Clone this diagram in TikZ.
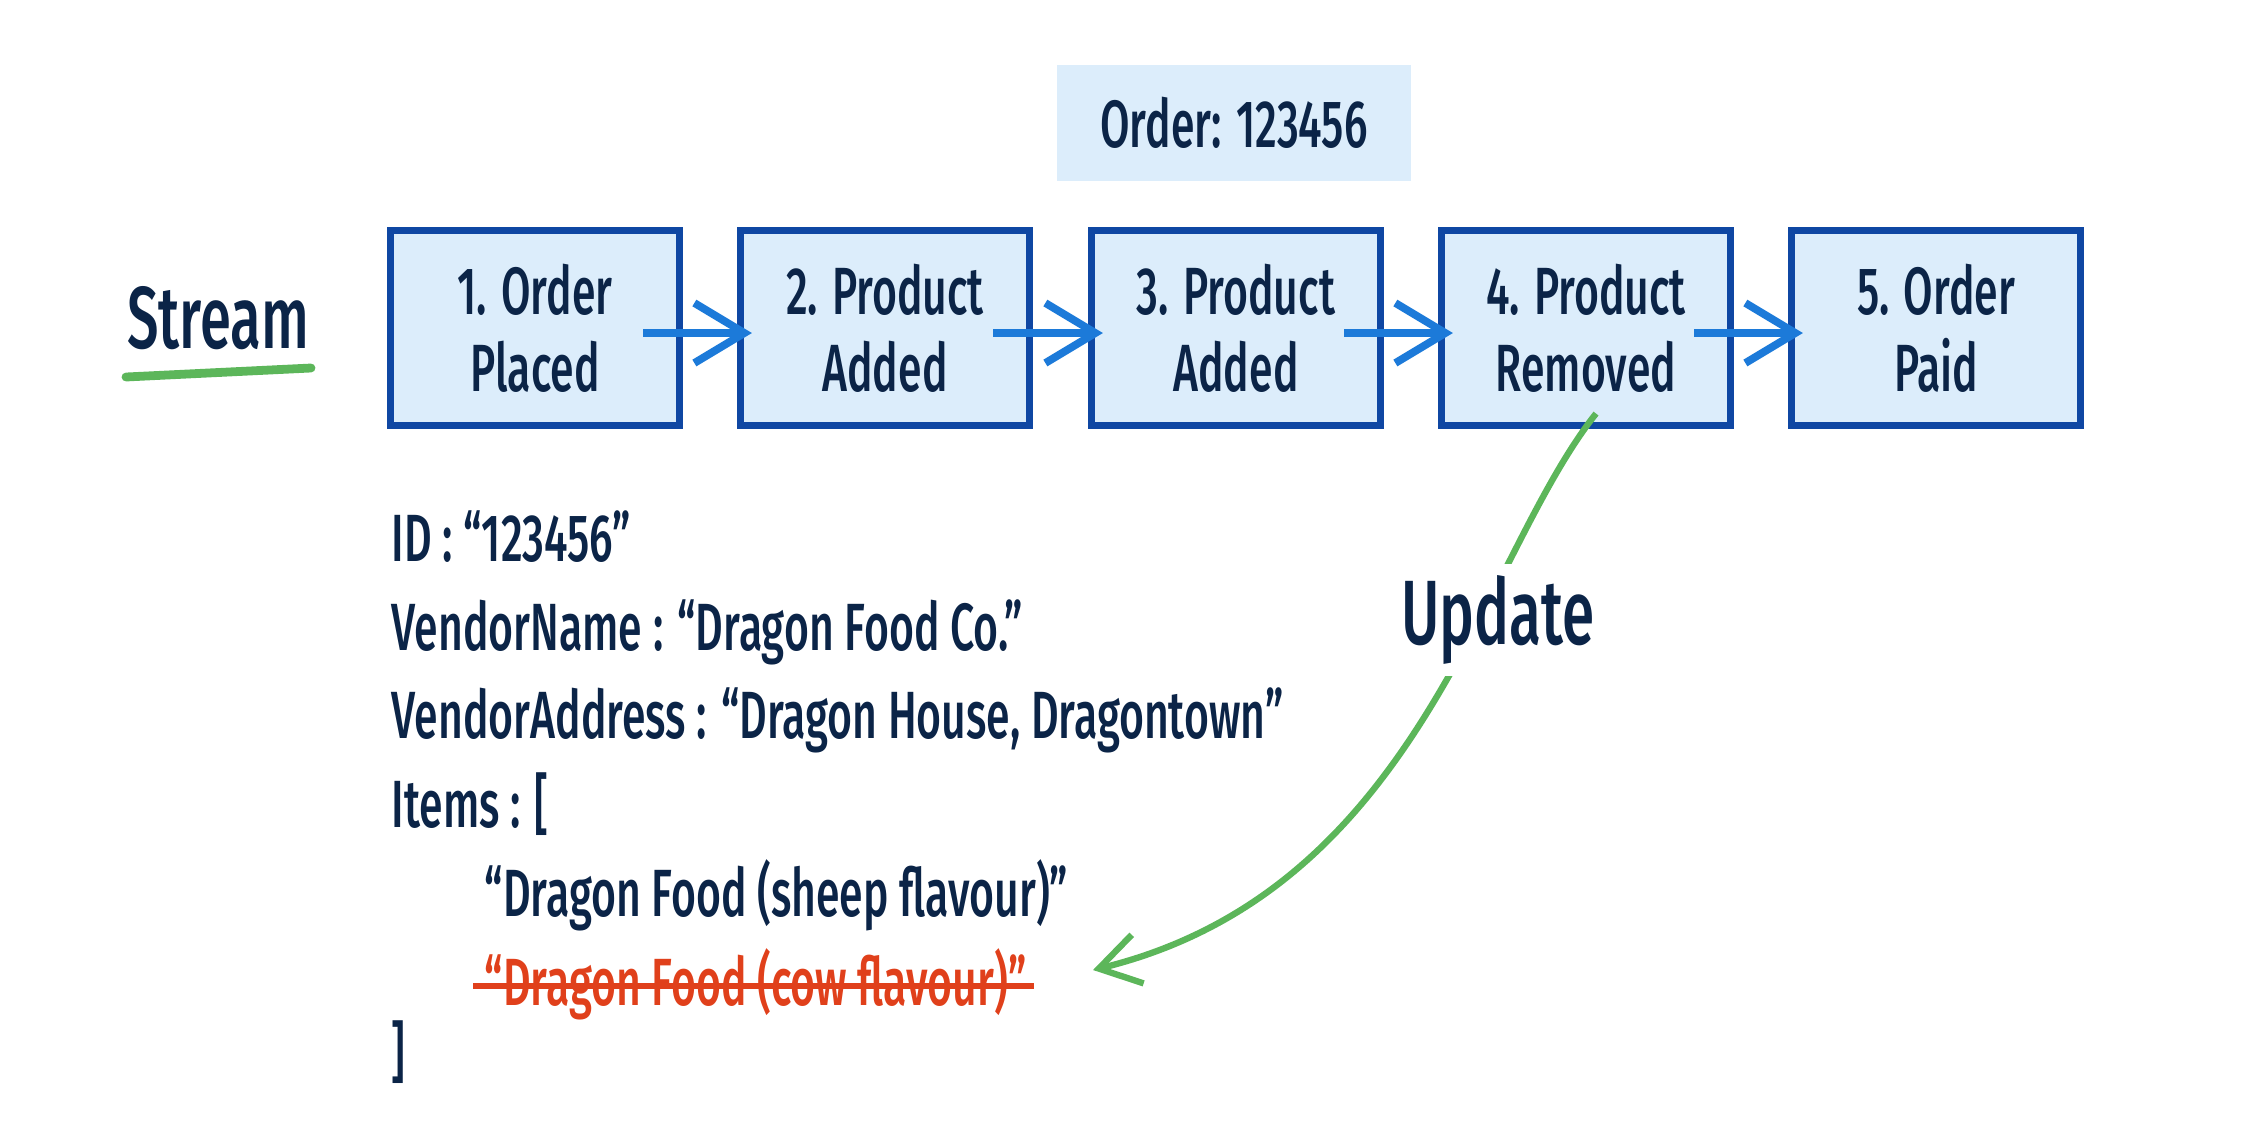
\documentclass[tikz,border=0pt]{standalone}
\usepackage{fontspec}
\setmainfont[FakeStretch=0.64, UprightFont=* Medium]{Fira Sans}
\usetikzlibrary{arrows.meta,positioning}
\definecolor{ink}{HTML}{0B2447}
\definecolor{paleblue}{HTML}{DCEDFB}
\definecolor{edgeblue}{HTML}{0F47A3}
\definecolor{flowblue}{HTML}{1C7AD9}
\definecolor{markgreen}{HTML}{5CB65A}
\definecolor{strikered}{HTML}{E0401B}

\begin{document}
\begin{tikzpicture}[x=0.01cm,y=-0.01cm,
    event/.style={draw=edgeblue, fill=paleblue, line width=2pt,
      minimum width=2.89cm, minimum height=1.94cm, align=center,
      text=ink, font=\fontsize{19}{22}\selectfont},
    flow/.style={draw=flowblue, line width=2.2pt,
      -{Straight Barb[length=0.5cm,width=0.6cm,line width=2.2pt]}},
    field/.style={anchor=base west, inner sep=0pt, text=ink,
      font=\fontsize{19}{22}\selectfont}]
    \useasboundingbox (0,0) rectangle (2254,1142);
    \def\ey{328}
    % the order
    \node[fill=paleblue, minimum width=3.54cm, minimum height=1.16cm,
      text=ink, font=\fontsize{19}{22}\selectfont] (order) at (1234,123) {Order: 123456};
    % the stream
    \node[text=ink, font=\fontsize{25}{28}\selectfont] (stream) at (218,318) {Stream};
    \coordinate (ul1) at (126,377);
    \coordinate (ul2) at (311,368);
    \draw[markgreen, line width=2.5pt, line cap=round] (ul1) -- (ul2);
    \node[event] (e1) at (535,\ey) {1. Order\\Placed};
    \node[event] (e2) at (885,\ey) {2. Product\\Added};
    \node[event] (e3) at (1236,\ey) {3. Product\\Added};
    \node[event] (e4) at (1586,\ey) {4. Product\\Removed};
    \node[event] (e5) at (1936,\ey) {5. Order\\Paid};
    \draw[flow] ([xshift=-0.4cm,yshift=-0.05cm]e1.east) -- ([xshift=0.15cm,yshift=-0.05cm]e2.west);
    \draw[flow] ([xshift=-0.4cm,yshift=-0.05cm]e2.east) -- ([xshift=0.15cm,yshift=-0.05cm]e3.west);
    \draw[flow] ([xshift=-0.4cm,yshift=-0.05cm]e3.east) -- ([xshift=0.15cm,yshift=-0.05cm]e4.west);
    \draw[flow] ([xshift=-0.4cm,yshift=-0.05cm]e4.east) -- ([xshift=0.15cm,yshift=-0.05cm]e5.west);
    % the state
    \node[field] (id) at (391,561) {ID : “123456”};
    \node[field] (name) at (391,650) {VendorName : “Dragon Food Co.”};
    \node[field] (addr) at (391,738) {VendorAddress : “Dragon House, Dragontown”};
    \node[field] (items) at (391,827) {Items : [};
    \node[field] (sheep) at (484,916) {“Dragon Food (sheep flavour)”};
    \node[field, text=strikered] (cow) at (484,1005) {“Dragon Food (cow flavour)”};
    \draw[strikered, line width=1.6pt] ([xshift=-3pt,yshift=0.19cm]cow.base west) -- ([xshift=2pt,yshift=0.19cm]cow.base east);
    \node[field] (close) at (391,1075) {]};
    % the update
    \coordinate (tip) at (1093,970);
    \draw[markgreen, line width=1.8pt, -{Straight Barb[length=0.4cm,width=0.5cm,line width=1.8pt]}]
      ([xshift=0.1cm,yshift=0.15cm]e4.south) .. controls (1480,560) and (1420,890) .. (tip);
    \node[fill=white, text=ink, font=\fontsize{26}{28}\selectfont] (update) at (1498,620) {Update};
\end{tikzpicture}
\end{document}
